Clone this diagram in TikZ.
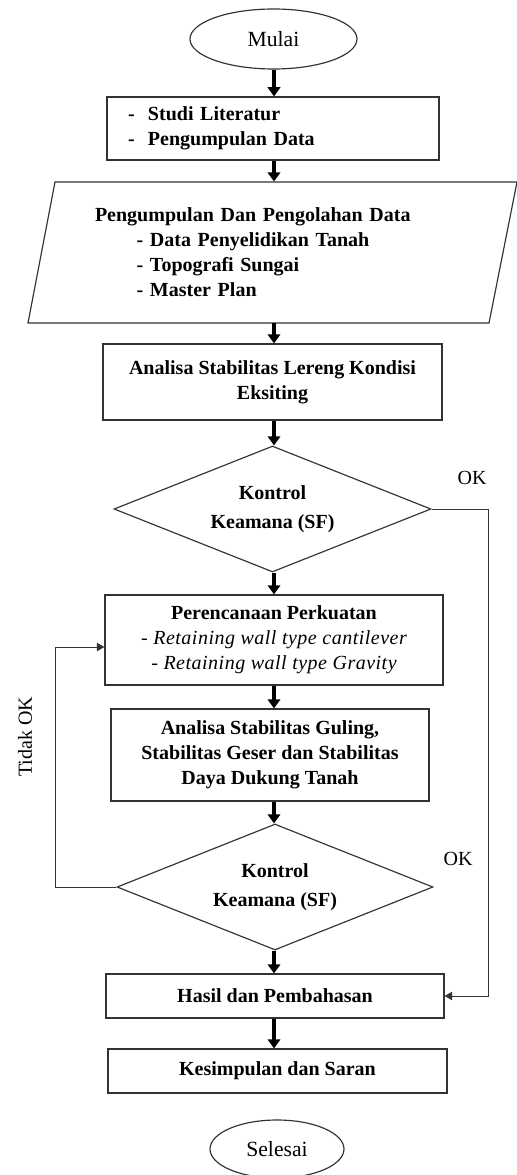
\documentclass[tikz,border=0pt]{standalone}
\usepackage{fontspec}
\setmainfont{Liberation Serif}
\usetikzlibrary{shapes.geometric,arrows.meta}

\newcommand{\boxfont}{\fontsize{12}{15}\selectfont}

\tikzset{every picture/.style={line width=0.6pt}}
\tikzset{
	stepbox/.style={draw=black!80, line width=0.7pt, align=center, font=\boxfont\bfseries, inner sep=2pt},
	termbox/.style={ellipse, draw=black!80, line width=0.7pt, font=\fontsize{13}{15}\selectfont},
	decision/.style={diamond, draw=black!80, line width=0.7pt, align=center, font=\boxfont\bfseries, inner sep=0pt, shape aspect=2.5},
	flow/.style={line width=2pt, -{Triangle[length=5.5pt,width=7.5pt]}},
	link/.style={draw=black!80, line width=0.6pt, -{Triangle[length=4.5pt,width=5pt]}},
	lbl/.style={font=\boxfont}}

\begin{document}
\begin{tikzpicture}[x=0.6pt,y=0.6pt,yscale=-1,xscale=1]
	\useasboundingbox (0,0) rectangle (516,1175);
	\coordinate (spine) at (274,0);

	%Terminal: start
	\node [termbox, minimum width=100.2pt, minimum height=36pt] (mulai) at (273.5,39) {Mulai};
	%Process: literature
	\node [stepbox, minimum height=37.8pt, text width=174pt, inner xsep=12.6pt, align=left] (studi) at (273,128.5) {-\hspace{8pt}Studi Literatur\\-\hspace{8pt}Pengumpulan Data};
	%Data: parallelogram
	\draw [draw=black!80, line width=0.7pt] (55,182) -- (517,182) -- (489,323) -- (28,323) -- cycle;
	\node [minimum height=84.6pt, text width=213pt, align=left, inner sep=0pt, font=\boxfont\bfseries] (data) at (272.5,252.5) {Pengumpulan Dan Pengolahan Data\\\hspace*{25pt}- Data Penyelidikan Tanah\\\hspace*{25pt}- Topografi Sungai\\\hspace*{25pt}- Master Plan};
	%Process: existing slope
	\node [stepbox, minimum width=203.4pt, minimum height=45.6pt] (lereng) at (272.5,382) {Analisa Stabilitas Lereng Kondisi\\Eksiting};
	%Decision 1
	\node [decision, minimum width=190.2pt, minimum height=75.6pt] (kontrol1) at (272.5,509) {Kontrol\\[2.4pt]Keamana (SF)};
	%Process: reinforcement
	\node [stepbox, minimum width=202.8pt, minimum height=54pt] (perkuatan) at (274,640) {Perencanaan Perkuatan\\{\mdseries\itshape\addfontfeature{LetterSpace=2.5} - Retaining wall type cantilever}\\{\mdseries\itshape\addfontfeature{LetterSpace=2.5} - Retaining wall type Gravity}};
	%Process: stability
	\node [stepbox, minimum width=190.8pt, minimum height=55.2pt] (guling) at (270,755) {Analisa Stabilitas Guling,\\Stabilitas Geser dan Stabilitas\\Daya Dukung Tanah};
	%Decision 2
	\node [decision, minimum width=189.6pt, minimum height=75.6pt] (kontrol2) at (275,887) {Kontrol\\[2.4pt]Keamana (SF)};
	%Process: results
	\node [stepbox, minimum width=202.8pt, minimum height=26.4pt] (hasil) at (275,996) {Hasil dan Pembahasan};
	\node [stepbox, minimum width=203.4pt, minimum height=26.4pt] (saran) at (277.5,1071) {Kesimpulan dan Saran};
	%Terminal: end
	\node [termbox, minimum width=80.4pt, minimum height=34.8pt] (selesai) at (277,1149) {Selesai};

	% main flow, kept on one vertical line
	\foreach \a/\b in {mulai/studi, studi/data, data/lereng, lereng/kontrol1, kontrol1/perkuatan, perkuatan/guling, guling/kontrol2, kontrol2/hasil, hasil/saran}
		\draw [flow] (\a.south -| spine) -- (\b.north -| spine);

	% side branches
	\draw [link] (kontrol1.east) -- +(57,0) |- (hasil.east);
	\draw [link] (kontrol2.west) -- +(-61,0) |- ([yshift=4.2pt]perkuatan.west);

	% Text Node
	\node [lbl] (ok1) at (472,478) {OK};
	% Text Node
	\node [lbl] (ok2) at (458,859) {OK};
	% Text Node
	\node [lbl, rotate=90] (tidak) at (25,737) {Tidak OK};

\end{tikzpicture}
\end{document}
